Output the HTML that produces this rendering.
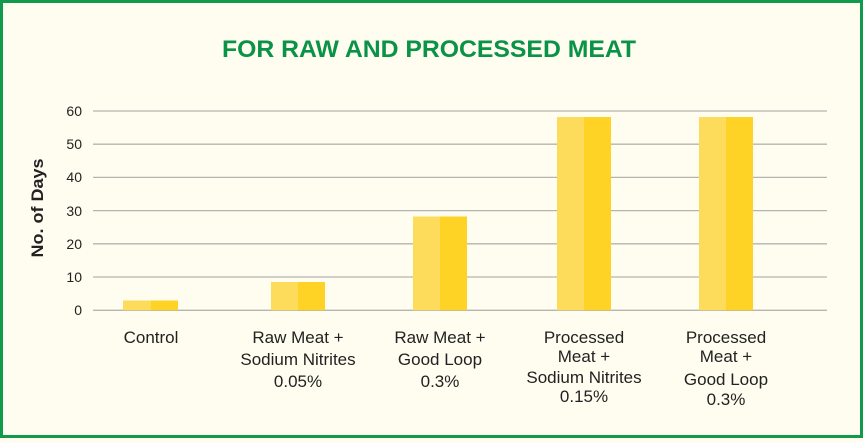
<!DOCTYPE html>
<html><head><meta charset="utf-8"><style>
html,body{margin:0;padding:0;}
body{width:863px;height:438px;overflow:hidden;background:#fefdf0;}
</style></head><body>
<svg width="863" height="438" xmlns="http://www.w3.org/2000/svg" font-family="Liberation Sans, sans-serif">
<rect x="1.5" y="1.5" width="860" height="435" fill="#fefdf0" stroke="#0f9a4c" stroke-width="3"/>
<text x="429" y="57" text-anchor="middle" font-size="24" font-weight="bold" fill="#0a9247" textLength="414" lengthAdjust="spacingAndGlyphs">FOR RAW AND PROCESSED MEAT</text>
<g stroke="#b5b5b0" stroke-width="1.3">
<line x1="93" y1="111" x2="827" y2="111"/><line x1="93" y1="144.2" x2="827" y2="144.2"/>
<line x1="93" y1="177.4" x2="827" y2="177.4"/><line x1="93" y1="210.6" x2="827" y2="210.6"/>
<line x1="93" y1="243.8" x2="827" y2="243.8"/><line x1="93" y1="277" x2="827" y2="277"/>
<line x1="93" y1="310.3" x2="827" y2="310.3"/>
</g>
<g font-size="14" fill="#222" text-anchor="end">
<text x="82" y="116">60</text><text x="82" y="149">50</text><text x="82" y="182">40</text>
<text x="82" y="216">30</text><text x="82" y="249">20</text><text x="82" y="282">10</text><text x="82" y="315">0</text>
</g>
<text transform="translate(43,208) rotate(-90)" text-anchor="middle" font-size="17" font-weight="bold" fill="#222" textLength="99" lengthAdjust="spacingAndGlyphs">No. of Days</text>
<g>
<rect x="123" y="300.5" width="28" height="9.8" fill="#fddc5c"/><rect x="151" y="300.5" width="27" height="9.8" fill="#fed326"/>
<rect x="271" y="282" width="27" height="28.3" fill="#fddc5c"/><rect x="298" y="282" width="27" height="28.3" fill="#fed326"/>
<rect x="413" y="216.5" width="27" height="93.8" fill="#fddc5c"/><rect x="440" y="216.5" width="27" height="93.8" fill="#fed326"/>
<rect x="557" y="117" width="27" height="193.3" fill="#fddc5c"/><rect x="584" y="117" width="27" height="193.3" fill="#fed326"/>
<rect x="699" y="117" width="27" height="193.3" fill="#fddc5c"/><rect x="726" y="117" width="27" height="193.3" fill="#fed326"/>
</g>
<g font-size="17" fill="#222" text-anchor="middle">
<text x="151" y="343">Control</text>
<text x="298" y="343">Raw Meat +</text><text x="298" y="365">Sodium Nitrites</text><text x="298" y="387">0.05%</text>
<text x="440" y="343">Raw Meat +</text><text x="440" y="365">Good Loop</text><text x="440" y="387">0.3%</text>
<text x="584" y="343">Processed</text><text x="584" y="362">Meat +</text><text x="584" y="383">Sodium Nitrites</text><text x="584" y="402">0.15%</text>
<text x="726" y="343">Processed</text><text x="726" y="362">Meat +</text><text x="726" y="385">Good Loop</text><text x="726" y="405">0.3%</text>
</g>
</svg>
</body></html>
